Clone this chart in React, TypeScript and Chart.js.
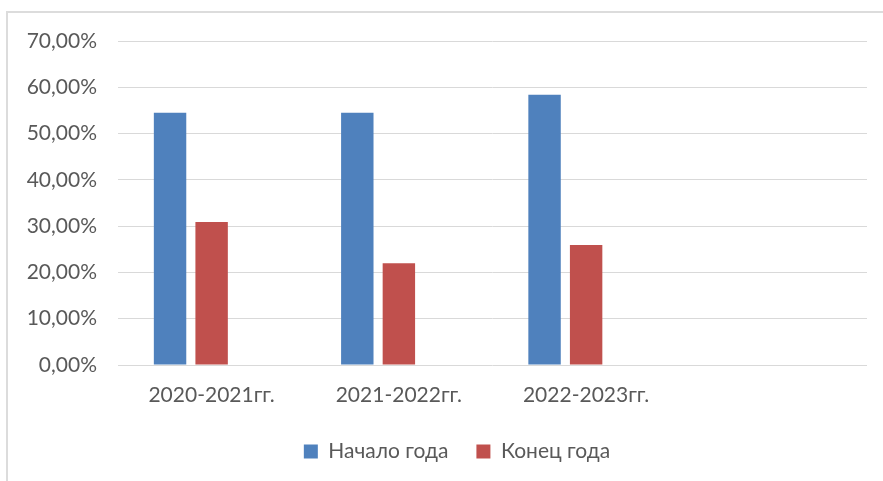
import React, { useEffect, useRef } from "react";
import { Chart, registerables } from "chart.js";

Chart.register(...registerables);

const categories = ["2020-2021гг.", "2021-2022гг.", "2022-2023гг.", ""];
const startOfYear = [54.5, 54.5, 58.4, null];
const endOfYear = [30.9, 22.0, 25.9, null];
const emptySeries = [null, null, null, null];
const seriesNames = ["Начало года", "Конец года", ""];
const yTickMax = 70;
const yTickStep = 10;

const FONT = "Lato, 'Open Sans', sans-serif";
const TEXT = "#595959";
const GRID = "#d9d9d9";

const legendShift = {
  id: "legendShift",
  afterLayout(chart: any) {
    if (chart.legend) {
      chart.legend.left += 47;
      chart.legend.right += 0;
    }
  },
};

export default function App() {
  const ref = useRef<HTMLCanvasElement | null>(null);

  useEffect(() => {
    document.body.style.margin = "0";
    if (!ref.current) return;
    const chart = new Chart(ref.current, {
      type: "bar",
      data: {
        labels: categories,
        datasets: [
          {
            label: seriesNames[0],
            data: startOfYear,
            backgroundColor: "#4F81BD",
            borderWidth: 0,
          },
          {
            label: seriesNames[1],
            data: endOfYear,
            backgroundColor: "#C0504D",
            borderWidth: 0,
          },
          {
            label: seriesNames[2],
            data: emptySeries,
            backgroundColor: "#9BBB59",
            borderWidth: 0,
          },
        ],
      },
      options: {
        animation: false,
        responsive: false,
        maintainAspectRatio: false,
        devicePixelRatio: 1,
        layout: { padding: { top: 41, right: 16, left: 0, bottom: 9 } },
        datasets: {
          bar: { categoryPercentage: 0.666, barPercentage: 0.78 },
        },
        plugins: {
          tooltip: { enabled: false },
          legend: {
            position: "bottom",
            labels: {
              color: TEXT,
              font: { family: FONT, size: 21 },
              boxWidth: 14,
              boxHeight: 14,
              padding: 28,
              filter: (item) => item.text !== "",
            },
          },
        },
        scales: {
          x: {
            grid: { display: false },
            border: { display: false },
            ticks: {
              color: TEXT,
              font: { family: FONT, size: 21 },
              padding: 10,
              maxRotation: 0,
            },
            afterFit: (scale: any) => {
              scale.height = 48;
            },
          },
          y: {
            min: 0,
            max: yTickMax,
            grid: { color: GRID, lineWidth: 1, drawTicks: false },
            border: { display: false },
            ticks: {
              stepSize: yTickStep,
              color: TEXT,
              font: { family: FONT, size: 21 },
              padding: 21,
              callback: (v: any) => Number(v).toFixed(2).replace(".", ",") + "%",
            },
            afterFit: (scale: any) => {
              scale.width = 118;
            },
          },
        },
      },
      plugins: [legendShift],
    });
    return () => chart.destroy();
  }, []);

  return (
    <div style={{ position: "absolute", left: 0, top: 0, width: 883, height: 481, overflow: "hidden", background: "#fff" }}>
      <div
        style={{
          position: "absolute",
          left: 6,
          top: 11,
          width: 900,
          height: 500,
          border: "2px solid #dcdcdc",
          boxSizing: "border-box",
        }}
      />
      <canvas ref={ref} width={883} height={481} style={{ position: "absolute", left: 0, top: 0, width: 883, height: 481 }} />
    </div>
  );
}
